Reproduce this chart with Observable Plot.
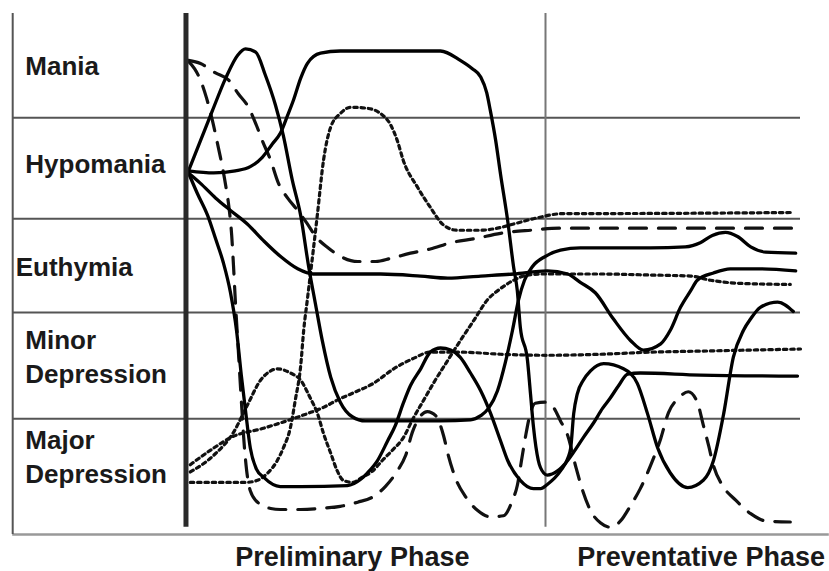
<!DOCTYPE html>
<html><head><meta charset="utf-8">
<script src="https://cdn.jsdelivr.net/npm/d3@7"></script>
<script src="https://cdn.jsdelivr.net/npm/@observablehq/plot@0.6"></script>
<style>html,body{margin:0;padding:0;background:#fff;overflow:hidden}</style>
</head><body><div id="chart"></div>
<script>
// time t (0 = start of treatment, 100 ≈ end), mood score m (0 = bottom of Major Depression, 5 = top of Mania)
const bandLabels = ["Mania","Hypomania","Euthymia","Minor","Depression","Major","Depression"];
const bandLabelT = [-27.2,-27.2,-28.8,-27.2,-27.2,-27.2,-27.2];
const bandLabelM = [4.49,3.55,2.56,1.86,1.53,0.90,0.57];
const bandEdges = [1.11, 2.13, 3.03, 4.00];
const phaseLabels = ["Preliminary Phase","Preventative Phase"];
const phaseLabelT = [7.8, 64.8];
const phaseLabelM = [-0.22, -0.22];
const frameT = [-29.3, 102, 106.8];   // left border, right end of band lines, right end of base line
const axisT = -0.42, dividerT = 59.5;

// solid courses
const solidPeak = [[0,3.49],[2,3.78],[4,4.07],[6.2,4.38],[8.2,4.60],[9.5,4.66],[11.2,4.63],[12.8,4.41],[14.5,4.12],[15.8,3.83],[17.3,3.40],[18.7,3.06],[20,2.58],[21.2,2.20],[22.3,1.86],[23.7,1.51],[25.3,1.27],[27.3,1.13],[29.5,1.09],[35.3,1.09],[42,1.09],[47,1.10],[48.7,1.14],[50,1.21],[51.5,1.38],[52.8,1.65],[54,1.96],[55,2.25],[56,2.44],[57.3,2.57],[59.5,2.67],[62,2.73],[65.3,2.75],[77,2.75],[82.8,2.76],[85.3,2.80],[87.3,2.87],[89.5,2.90],[91.5,2.86],[93.7,2.76],[96.2,2.71],[101.2,2.70]];
const solidPlateau = [[0,3.49],[4.2,3.47],[7.8,3.49],[10.3,3.53],[12.3,3.62],[14,3.75],[15.3,3.85],[16.5,4.02],[17.5,4.17],[18.7,4.38],[19.8,4.52],[22,4.62],[25.3,4.64],[32,4.64],[42,4.64],[45.3,4.55],[47.3,4.47],[48.7,4.39],[49.7,4.24],[50.3,4.07],[51.2,3.78],[52,3.46],[53.2,3.01],[54.2,2.56],[54.8,2.34],[55.3,1.99],[56.5,1.67],[57,1.35],[57.5,1.03],[58.3,0.71],[59.2,0.59],[59.8,0.57],[61.5,0.61],[63.2,0.71],[64.2,0.79],[65.8,0.93],[67.5,1.07],[69,1.21],[70.3,1.31],[71.7,1.43],[73.2,1.54],[75.3,1.55],[85.3,1.53],[101.5,1.52]];
const solidMajor = [[0,3.47],[1.5,3.27],[3.2,3.06],[4.5,2.84],[5.8,2.61],[7,2.32],[8,1.96],[8.8,1.53],[9.5,1.19],[10.3,0.83],[11.3,0.63],[12.5,0.55],[15.3,0.46],[18.7,0.46],[26.5,0.47],[28.7,0.53],[29.8,0.59],[31.5,0.71],[33.2,0.90],[34.5,1.05],[35.8,1.26],[37,1.43],[38.7,1.59],[40.3,1.75],[42,1.79],[43.7,1.77],[45.3,1.70],[47,1.55],[48.7,1.38],[50.3,1.17],[52,0.90],[53.2,0.71],[55.3,0.52],[57.5,0.44],[58.7,0.44],[59.8,0.48],[62,0.61],[63.2,0.73],[63.7,0.83],[64.2,1.16],[64.8,1.35],[65.8,1.48],[67,1.57],[69.2,1.64],[72.5,1.59],[74.8,1.45],[76.5,1.16],[78.2,0.83],[80.3,0.59],[83.2,0.45],[85.8,0.52],[87.5,0.71],[89.2,1.16],[90.8,1.70],[92.5,1.96],[93.7,2.07],[95.3,2.18],[98.2,2.23],[100.8,2.14]];
const solidEuthymia = [[0,3.47],[2,3.37],[4.5,3.23],[7,3.11],[9.8,2.98],[12.5,2.82],[15.3,2.67],[18.2,2.55],[20.8,2.50],[25.3,2.50],[32,2.50],[38.7,2.48],[43.2,2.46],[48.7,2.48],[54.2,2.50],[59.8,2.53],[63.2,2.50],[65.3,2.42],[67.8,2.32],[70.8,2.07],[73.7,1.86],[75.8,1.77],[78.7,1.83],[80.3,1.96],[82,2.18],[83.7,2.34],[84.8,2.44],[87.5,2.51],[90.3,2.55],[95.3,2.55],[101.2,2.53]];
// dashed courses
const dashedSlow = [[0,4.55],[2,4.52],[4.5,4.43],[6.7,4.36],[8.3,4.23],[10,4.10],[11.3,3.93],[12.3,3.78],[13.7,3.59],[15,3.37],[16.5,3.23],[18.2,3.11],[19.7,2.99],[21.2,2.86],[23.3,2.75],[25.3,2.67],[28.2,2.62],[31.2,2.62],[33.7,2.65],[37,2.70],[40.3,2.74],[43.7,2.80],[47.8,2.84],[52,2.89],[57,2.92],[62,2.94],[101.2,2.94]];
const dashedCycling = [[0,4.54],[1,4.47],[2,4.36],[3,4.19],[4,3.97],[4.8,3.76],[5.5,3.57],[6.2,3.35],[6.7,3.16],[7.2,2.87],[7.5,2.58],[7.8,2.25],[8.3,1.77],[8.8,1.29],[9.3,0.85],[9.7,0.61],[10.3,0.42],[11.7,0.30],[13.7,0.25],[15.3,0.24],[18.7,0.24],[22,0.25],[25.3,0.27],[28.2,0.31],[30.7,0.36],[32.8,0.46],[34.8,0.61],[36.2,0.76],[37.3,0.98],[38.7,1.14],[39.8,1.18],[41.2,1.14],[42.5,0.95],[43.3,0.76],[44.5,0.54],[46.2,0.36],[48.2,0.23],[50.3,0.17],[52.5,0.18],[54,0.33],[54.8,0.47],[55.5,0.71],[56.2,0.95],[57,1.17],[57.8,1.26],[59.5,1.27],[60.7,1.23],[62,1.09],[63.2,0.95],[64.5,0.66],[65.7,0.42],[67,0.23],[68.7,0.11],[70.3,0.07],[72,0.13],[73.7,0.28],[75.3,0.44],[77,0.66],[78.7,0.92],[80,1.17],[81.7,1.31],[83.3,1.37],[84.8,1.27],[85.8,1.05],[86.7,0.85],[87.5,0.66],[89,0.47],[91.2,0.33],[93.7,0.20],[96.2,0.13],[100.3,0.12]];
// dotted courses
const dottedTall = [[0.3,0.50],[5.3,0.50],[9.5,0.50],[11.5,0.52],[13.2,0.59],[14.8,0.71],[15.8,0.83],[17,1.03],[17.8,1.29],[18.7,1.62],[19.2,1.96],[19.8,2.25],[20.3,2.49],[20.8,2.73],[21.5,3.08],[22.5,3.59],[23.7,3.91],[25.3,4.04],[27,4.10],[29.8,4.09],[32,4.04],[33.7,3.93],[34.8,3.78],[35.8,3.59],[38.2,3.33],[40.3,3.14],[42.5,2.97],[44.8,2.92],[48.7,2.92],[51.5,2.94],[54.2,2.98],[58.2,3.04],[62.5,3.08],[67.5,3.08],[100.3,3.09]];
const dottedHump = [[0.3,0.60],[4.2,0.76],[7.5,0.98],[9.8,1.24],[12,1.48],[13.7,1.57],[14.8,1.59],[17,1.55],[18.7,1.48],[20.3,1.31],[21.5,1.16],[22.5,0.97],[23.7,0.78],[24.8,0.61],[25.8,0.52],[27.3,0.50],[29,0.55],[30.7,0.61],[32.3,0.71],[34,0.81],[35.7,0.92],[37.5,1.12],[39.2,1.29],[40.8,1.45],[43.2,1.67],[45.3,1.86],[47.5,2.05],[49.8,2.25],[52,2.36],[54.2,2.44],[56.5,2.49],[59.2,2.50],[63.2,2.50],[68.7,2.50],[77,2.49],[83.7,2.48],[87,2.44],[92,2.41],[100.3,2.40]];
const dottedRise = [[0.3,0.67],[4.2,0.83],[7,0.93],[12.5,1.02],[15.3,1.07],[19.8,1.16],[22.5,1.22],[24.8,1.29],[27.5,1.36],[30.8,1.45],[34.2,1.59],[37.5,1.69],[40.3,1.75],[45.3,1.75],[52,1.73],[59.8,1.72],[68.7,1.73],[77,1.75],[85.3,1.76],[102,1.78]];

const font = "'Liberation Sans', Arial, Helvetica, sans-serif";
const solids = [solidPeak, solidPlateau, solidMajor, solidEuthymia];
const dashes = [dashedSlow, dashedCycling];
const dots = [dottedTall, dottedHump, dottedRise];
const curve = "monotone-x";

const labelRows = bandLabels.map((s,i)=>({s, t: bandLabelT[i], m: bandLabelM[i]}));
const phaseRows = phaseLabels.map((s,i)=>({s, t: phaseLabelT[i], m: phaseLabelM[i]}));

const chart = Plot.plot({
  width: 829, height: 571,
  marginTop: 0, marginRight: 0, marginBottom: 0, marginLeft: 0,
  x: {domain: [0, 100], range: [188, 788], axis: null},
  y: {domain: [0, 5], range: [534, 13], axis: null},
  style: {background: "#fff"},
  marks: [
    Plot.ruleY(bandEdges, {y: d=>d, x1: frameT[0], x2: frameT[1], stroke: "#555", strokeWidth: 2}),
    Plot.ruleY([0], {x1: frameT[0], x2: frameT[2], stroke: "#999", strokeWidth: 2.5}),
    Plot.ruleX([frameT[0]], {y1: 0, y2: 5, stroke: "#555", strokeWidth: 2}),
    Plot.ruleX([dividerT], {y1: 0.07, y2: 5, stroke: "#777", strokeWidth: 2}),
    ...dots.map(d => Plot.line(d, {curve, stroke: "#111", strokeWidth: 3.2, strokeDasharray: "3.5,3.8"})),
    ...dashes.map(d => Plot.line(d, {curve, stroke: "#111", strokeWidth: 3.2, strokeDasharray: "17,12"})),
    ...solids.map(d => Plot.line(d, {curve, stroke: "#000", strokeWidth: 3.3})),
    Plot.ruleX([axisT], {y1: 0.07, y2: 5, stroke: "#2a2a2a", strokeWidth: 5}),
    Plot.text(labelRows, {x: "t", y: "m", text: "s", textAnchor: "start", lineAnchor: "middle", fontSize: 26, fontWeight: "bold", fontFamily: font, fill: "#1a1a1a"}),
    Plot.text(phaseRows, {x: "t", y: "m", text: "s", textAnchor: "start", lineAnchor: "middle", fontSize: 27, fontWeight: "bold", fontFamily: font, fill: "#1a1a1a"})
  ]
});
document.getElementById("chart").appendChild(chart);
</script>
</body></html>
